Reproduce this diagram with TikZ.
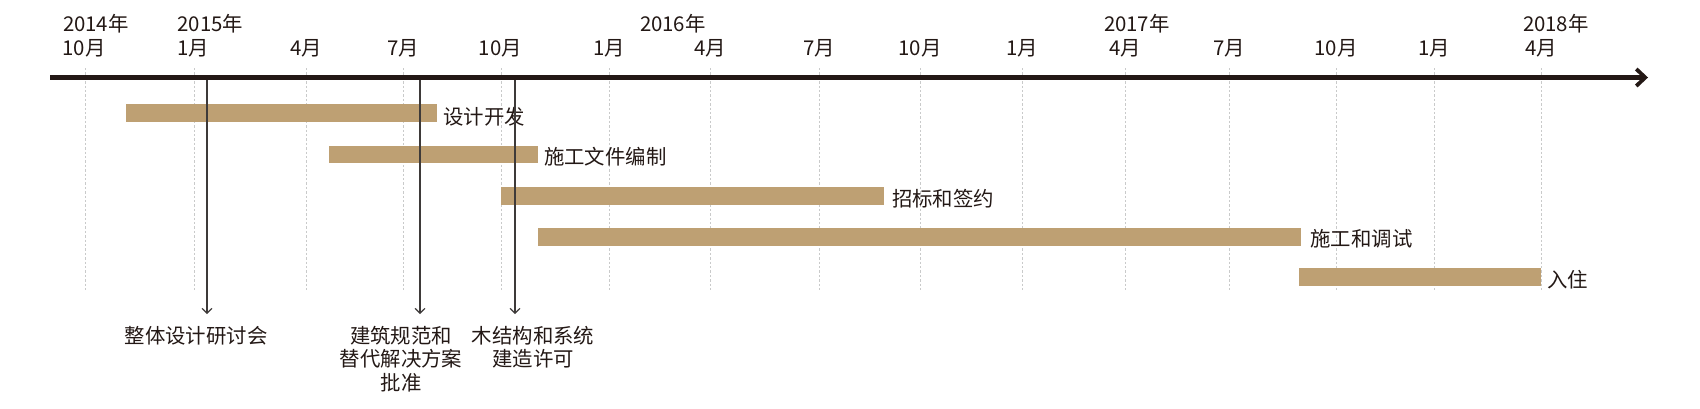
\documentclass[tikz,border=0pt]{standalone}
\usepackage{fontspec}
\setmainfont{Noto Sans CJK SC}
\usetikzlibrary{arrows.meta}
\definecolor{ink}{HTML}{231815}
\definecolor{barfill}{HTML}{BEA073}
\definecolor{gridgray}{HTML}{C9CACA}
\definecolor{pointgray}{HTML}{3E3A39}
\begin{document}
\begin{tikzpicture}[x=0.5pt,y=-0.5pt,
  font=\fontsize{10.2}{11.8}\selectfont,
  every node/.style={inner sep=0pt,outer sep=0pt,text=ink},
  gridline/.style={draw=gridgray,line width=0.5pt,dash pattern=on 1.2pt off 1pt},
  taskbar/.style={fill=barfill},
  tasklabel/.style={anchor=west},
  monthlabel/.style={anchor=base},
  yearlabel/.style={anchor=base west},
  timeaxis/.style={draw=ink,line width=2.2pt,-{Straight Barb[length=4.5pt,width=8.5pt,line width=1.9pt]}},
  pointer/.style={draw=pointgray,line width=0.6pt,-{Straight Barb[length=2.4pt,width=5pt,line width=0.6pt]}},
  eventlabel/.style={anchor=north,align=center}]
\useasboundingbox (0,0) rectangle (1700,408);

% grid lines
\foreach \gx in {85,194,306.5,403,501,609,710,819,920,1022,1125,1229,1336,1434,1541}
  \draw[gridline] (\gx,68) -- (\gx,292);

% year labels
\node[yearlabel] (y2014) at (63,31.7) {2014年};
\node[yearlabel] (y2015) at (177.5,31.7) {2015年};
\node[yearlabel] (y2016) at (640,31.7) {2016年};
\node[yearlabel] (y2017) at (1104,31.7) {2017年};
\node[yearlabel] (y2018) at (1523,31.7) {2018年};

% month labels
\node[monthlabel] (m1) at (84,55) {10月};
\node[monthlabel] (m2) at (193,55) {1月};
\node[monthlabel] (m3) at (306.5,55) {4月};
\node[monthlabel] (m4) at (403,55) {7月};
\node[monthlabel] (m5) at (500.5,55) {10月};
\node[monthlabel] (m6) at (609,55) {1月};
\node[monthlabel] (m7) at (710,55) {4月};
\node[monthlabel] (m8) at (819,55) {7月};
\node[monthlabel] (m9) at (920,55) {10月};
\node[monthlabel] (m10) at (1022,55) {1月};
\node[monthlabel] (m11) at (1125,55) {4月};
\node[monthlabel] (m12) at (1229,55) {7月};
\node[monthlabel] (m13) at (1336,55) {10月};
\node[monthlabel] (m14) at (1434,55) {1月};
\node[monthlabel] (m15) at (1541,55) {4月};

% bars
\fill[taskbar] (125.7,103.5) rectangle (436.7,121.7);
\fill[taskbar] (329,145.7) rectangle (538.3,163.3);
\fill[taskbar] (501,187.3) rectangle (884.3,204.7);
\fill[taskbar] (538.3,228.3) rectangle (1301,246);
\fill[taskbar] (1299,268.3) rectangle (1540.7,286);

% bar labels
\node[tasklabel] (t1) at (443.5,116.3) {设计开发};
\node[tasklabel] (t2) at (544,156.8) {施工文件编制};
\node[tasklabel] (t3) at (892,198.3) {招标和签约};
\node[tasklabel] (t4) at (1310.5,238.8) {施工和调试};
\node[tasklabel] (t5) at (1547.5,280) {入住};

% event labels
\node[eventlabel] (e1) at (196,326) {整体设计研讨会};
\node[eventlabel] (e2) at (401,326) {建筑规范和\\替代解决方案\\批准};
\node[eventlabel] (e3) at (533,326) {木结构和系统\\建造许可};

% pointer ends
\coordinate (p1s) at (207,79);
\coordinate (p1e) at (207,314);
\coordinate (p2s) at (420,79);
\coordinate (p2e) at (420,314);
\coordinate (p3s) at (515,79);
\coordinate (p3e) at (515,314);
\draw[pointer] (p1s) -- (p1e);
\draw[pointer] (p2s) -- (p2e);
\draw[pointer] (p3s) -- (p3e);

% axis
\coordinate (axs) at (50,77.5);
\coordinate (axe) at (1648,77.5);
\draw[timeaxis] (axs) -- (axe);
\end{tikzpicture}
\end{document}
